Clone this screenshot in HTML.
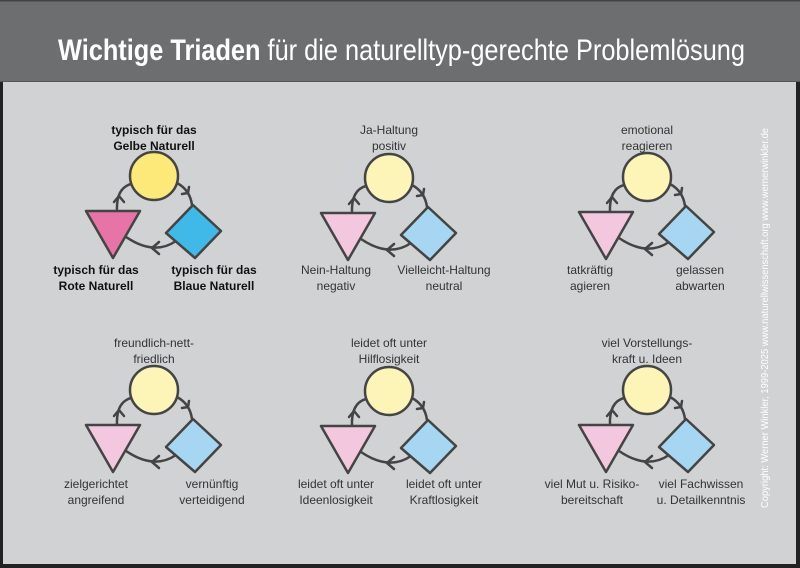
<!DOCTYPE html>
<html><head><meta charset="utf-8"><style>
html,body{margin:0;padding:0;width:800px;height:568px;overflow:hidden;background:#d1d2d4}
svg{display:block}
text{font-family:"Liberation Sans",Arial,sans-serif}
</style></head><body>
<svg width="800" height="568" viewBox="0 0 800 568" xmlns="http://www.w3.org/2000/svg">
<rect x="0" y="0" width="800" height="568" fill="#d1d2d4"/>
<rect x="0" y="0" width="800" height="81" fill="#6d6e70"/>
<rect x="0" y="0" width="800" height="1.5" fill="#444"/>
<rect x="0" y="81" width="800" height="1" fill="#555"/>
<rect x="0" y="82" width="3" height="486" fill="#222"/>
<rect x="796" y="82" width="4" height="486" fill="#222"/>
<rect x="0" y="564" width="800" height="4" fill="#222"/>
<text x="58" y="60" font-size="30" fill="#fff" textLength="687" lengthAdjust="spacingAndGlyphs" style='font-family:"Liberation Sans Narrow","Liberation Sans",sans-serif'><tspan font-weight="bold">Wichtige Triaden</tspan> für die naturelltyp-gerechte Problemlösung</text>
<text transform="translate(768,508) rotate(-90)" font-size="10" fill="#fff" textLength="380" lengthAdjust="spacingAndGlyphs" style='font-family:"Liberation Sans Narrow","Liberation Sans",sans-serif'>Copyright: Werner Winkler, 1999-2025     www.naturellwissenschaft.org     www.wernerwinkler.de</text>
<defs>
<g id="arcs" fill="none" stroke="#444" stroke-width="2.5" stroke-linecap="round" stroke-linejoin="round">
<path d="M-37,35 Q-38,12 -23,8"/>
<polyline points="-40,26 -35,20 -30,26"/>
<path d="M23,7 Q36,14 38,29"/>
<polyline points="28,18 34,17 35,11"/>
<path d="M22,65 Q0,80 -28,61"/>
<polyline points="5,66 -2,72 5,78"/>
</g>
</defs>
<g font-size="12" fill="#333" text-anchor="middle">
<!-- panel 1 -->
<g transform="translate(154,176)">
<use href="#arcs"/>
<circle r="24" fill="#fde97a" stroke="#444" stroke-width="2.5"/>
<path d="M-68,35 L-14,35 L-41,82 Z" fill="#e774a6" stroke="#444" stroke-width="2.5" stroke-linejoin="round"/>
<path d="M12,57 L39,29 L67,55 L41,82 Z" fill="#40b8e8" stroke="#444" stroke-width="2.5" stroke-linejoin="round"/>
<g font-weight="bold" fill="#111"><text y="-42">typisch für das</text><text y="-26">Gelbe Naturell</text>
<text x="-58" y="98">typisch für das</text><text x="-58" y="114">Rote Naturell</text>
<text x="60" y="98">typisch für das</text><text x="60" y="114">Blaue Naturell</text></g>
</g>
<!-- pale panels -->
<g transform="translate(389,178)">
<use href="#arcs"/>
<circle r="24" fill="#fdf4b8" stroke="#444" stroke-width="2.5"/>
<path d="M-68,35 L-14,35 L-41,82 Z" fill="#f3c8de" stroke="#444" stroke-width="2.5" stroke-linejoin="round"/>
<path d="M12,57 L39,29 L67,55 L41,82 Z" fill="#a7d6f2" stroke="#444" stroke-width="2.5" stroke-linejoin="round"/>
<text y="-44">Ja-Haltung</text><text y="-28">positiv</text>
<text x="-53" y="96">Nein-Haltung</text><text x="-53" y="112">negativ</text>
<text x="55" y="96">Vielleicht-Haltung</text><text x="55" y="112">neutral</text>
</g>
<g transform="translate(647,177)">
<use href="#arcs"/>
<circle r="24" fill="#fdf4b8" stroke="#444" stroke-width="2.5"/>
<path d="M-68,35 L-14,35 L-41,82 Z" fill="#f3c8de" stroke="#444" stroke-width="2.5" stroke-linejoin="round"/>
<path d="M12,57 L39,29 L67,55 L41,82 Z" fill="#a7d6f2" stroke="#444" stroke-width="2.5" stroke-linejoin="round"/>
<text y="-43">emotional</text><text y="-27">reagieren</text>
<text x="-57" y="97">tatkräftig</text><text x="-57" y="113">agieren</text>
<text x="53" y="97">gelassen</text><text x="53" y="113">abwarten</text>
</g>
<g transform="translate(154,390)">
<use href="#arcs"/>
<circle r="24" fill="#fdf4b8" stroke="#444" stroke-width="2.5"/>
<path d="M-68,35 L-14,35 L-41,82 Z" fill="#f3c8de" stroke="#444" stroke-width="2.5" stroke-linejoin="round"/>
<path d="M12,57 L39,29 L67,55 L41,82 Z" fill="#a7d6f2" stroke="#444" stroke-width="2.5" stroke-linejoin="round"/>
<text y="-43">freundlich-nett-</text><text y="-27">friedlich</text>
<text x="-58" y="98">zielgerichtet</text><text x="-58" y="114">angreifend</text>
<text x="58" y="98">vernünftig</text><text x="58" y="114">verteidigend</text>
</g>
<g transform="translate(389,391)">
<use href="#arcs"/>
<circle r="24" fill="#fdf4b8" stroke="#444" stroke-width="2.5"/>
<path d="M-68,35 L-14,35 L-41,82 Z" fill="#f3c8de" stroke="#444" stroke-width="2.5" stroke-linejoin="round"/>
<path d="M12,57 L39,29 L67,55 L41,82 Z" fill="#a7d6f2" stroke="#444" stroke-width="2.5" stroke-linejoin="round"/>
<text y="-44">leidet oft unter</text><text y="-28">Hilflosigkeit</text>
<text x="-53" y="97">leidet oft unter</text><text x="-53" y="113">Ideenlosigkeit</text>
<text x="55" y="97">leidet oft unter</text><text x="55" y="113">Kraftlosigkeit</text>
</g>
<g transform="translate(647,390)">
<use href="#arcs"/>
<circle r="24" fill="#fdf4b8" stroke="#444" stroke-width="2.5"/>
<path d="M-68,35 L-14,35 L-41,82 Z" fill="#f3c8de" stroke="#444" stroke-width="2.5" stroke-linejoin="round"/>
<path d="M12,57 L39,29 L67,55 L41,82 Z" fill="#a7d6f2" stroke="#444" stroke-width="2.5" stroke-linejoin="round"/>
<text y="-43">viel Vorstellungs-</text><text y="-27">kraft u. Ideen</text>
<text x="-55" y="98">viel Mut u. Risiko-</text><text x="-55" y="114">bereitschaft</text>
<text x="54" y="98">viel Fachwissen</text><text x="54" y="114">u. Detailkenntnis</text>
</g>
</g>
</svg>
</body></html>
